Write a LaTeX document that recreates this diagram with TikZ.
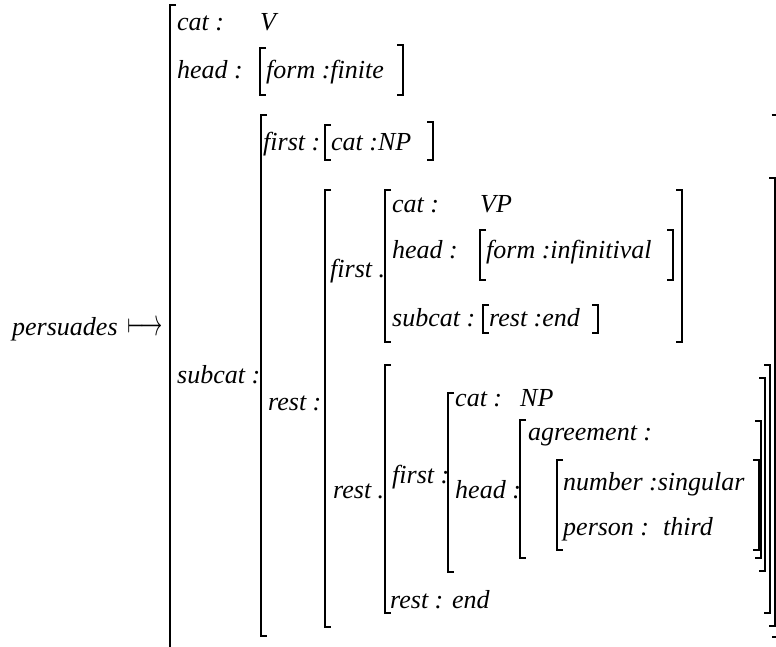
\documentclass[tikz,border=0pt]{standalone}
\usepackage{fontspec}
\usepackage{graphicx}
\setmainfont{Liberation Serif}
\begin{document}
\begin{tikzpicture}[x=1pt,y=-1pt,line join=miter,
	lbl/.style={anchor=base west,inner sep=0pt,font=\fontsize{26}{30}\selectfont\itshape},
	brk/.style={line width=1.5pt}]
	\useasboundingbox (0,0) rectangle (776,646);
	\clip (0,0) rectangle (776,646);
	% opening brackets: x/top/bottom
	\foreach \x/\t/\b in {170/5/660,260/48/95,261/115/636,325/125/160,325/190/627,
		385/190/342,480/230/280,483/305/333,385/365/613,448/393/572,520/420/558,557/460/550}
		\draw[brk] ({\x+6},\t) -- (\x,\t) -- (\x,\b) -- ({\x+6},\b);
	% closing brackets
	\foreach \x/\t/\b in {403/45/95,433/122/160,682/190/342,673/230/280,598/305/333,
		759/460/550,761/421/558,765/378/571,770/365/613,775/178/626,777.5/115/637}
		\draw[brk] ({\x-6},\t) -- (\x,\t) -- (\x,\b) -- ({\x-6},\b);
	% left side
	\node[lbl] (word) at (12,335) {persuades};
	\node[anchor=base west,inner sep=0pt] (mapsto) at (127,335) {\resizebox{36pt}{14pt}{$\longmapsto$}};
	% top level
	\node[lbl] (catA) at (177,30) {cat :};
	\node[lbl] (catAv) at (260,30) {V};
	\node[lbl] (headA) at (177,78) {head :};
	\node[lbl] (formA) at (266,78) {form :finite};
	\node[lbl] (subcatA) at (177,383) {subcat :};
	% subcat list
	\node[lbl] (firstA) at (263,150) {first :};
	\node[lbl] (catB) at (331,150) {cat :NP};
	\node[lbl] (restA) at (268,410) {rest :};
	\node[lbl] (firstB) at (330,277) {first .};
	\node[lbl] (catC) at (392,212) {cat :};
	\node[lbl] (catCv) at (480,212) {VP};
	\node[lbl] (headC) at (392,258) {head :};
	\node[lbl] (formC) at (486,258) {form :infinitival};
	\node[lbl] (subcatC) at (392,326) {subcat :};
	\node[lbl] (restC) at (489,326) {rest :end};
	% inner list
	\node[lbl] (restB) at (333,498) {rest .};
	\node[lbl] (firstD) at (392,483) {first :};
	\node[lbl] (catD) at (455,406) {cat :};
	\node[lbl] (catDv) at (520,406) {NP};
	\node[lbl] (headD) at (455,498) {head :};
	\node[lbl] (agr) at (528,440) {agreement :};
	\node[lbl] (number) at (563,490) {number :singular};
	\node[lbl] (person) at (563,535) {person :};
	\node[lbl] (personv) at (663,535) {third};
	\node[lbl] (restD) at (390,608) {rest : end};
\end{tikzpicture}
\end{document}
